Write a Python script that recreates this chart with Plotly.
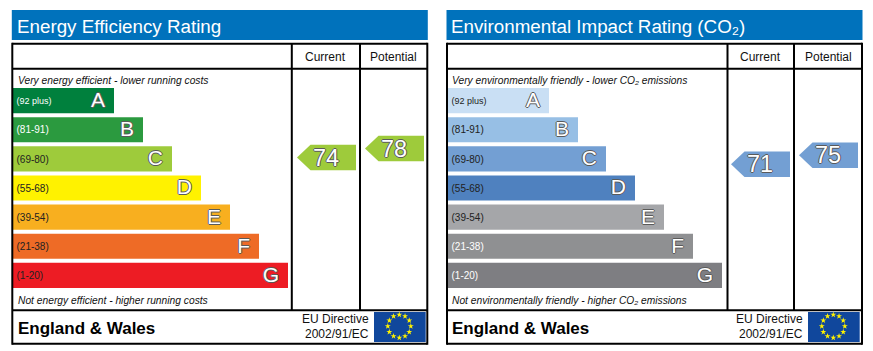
import math
import plotly.graph_objects as go

W, H = 873, 351

# ---- data ----
bands = ["A", "B", "C", "D", "E", "F", "G"]
ranges = ["(92 plus)", "(81-91)", "(69-80)", "(55-68)", "(39-54)", "(21-38)", "(1-20)"]
energy_lengths = [101, 130, 159, 188, 217, 246, 275]
env_lengths = [101, 130, 158, 187, 216, 245, 274]
energy_colors = ["#00803D", "#2B9A3F", "#9ECB3B", "#FFF200", "#F8AF1F", "#EE6B26", "#ED1C24"]
env_colors = ["#C9DFF4", "#97BFE5", "#739FD3", "#4F81BF", "#A5A6A9", "#8F9092", "#7E7E82"]
energy_label_colors = ["#FFFFFF", "#FFFFFF", "#222222", "#222222", "#222222", "#222222", "#222222"]
env_label_colors = ["#222222", "#222222", "#222222", "#222222", "#222222", "#FFFFFF", "#FFFFFF"]
energy_ratings = [74, 78]
env_ratings = [71, 75]
column_names = ["Current", "Potential"]

FONT = "Liberation Sans, Arial, sans-serif"
OUTLINE = "-1px 0 0 #5A5A5A, 1px 0 0 #5A5A5A, 0 -1px 0 #5A5A5A, 0 1px 0 #5A5A5A"


def px(x):
    return x / W


def py(y):
    return 1 - y / H


fig = go.Figure()
shapes, notes = [], []


def rect(x0, y0, x1, y1, color):
    shapes.append(dict(type="rect", xref="paper", yref="paper", x0=px(x0), x1=px(x1),
                       y0=py(y0), y1=py(y1), fillcolor=color, line_width=0, layer="below"))


def line(x0, y0, x1, y1, width=2):
    shapes.append(dict(type="line", xref="paper", yref="paper", x0=px(x0), x1=px(x1),
                       y0=py(y0), y1=py(y1), line=dict(color="#000000", width=width)))


def text(x, y, s, size, anchor="left", color="#111111", italic=False, bold=False):
    notes.append(dict(xref="paper", yref="paper", x=px(x), y=py(y), text=s, showarrow=False,
                      xanchor=anchor, yanchor="middle", align=anchor,
                      borderpad=0, borderwidth=0,
                      font=dict(family=FONT, size=size, color=color,
                                style="italic" if italic else "normal",
                                weight="bold" if bold else "normal")))


def panel(left, box, title, top_note, bottom_note, lengths, colors, label_colors, ratings,
          arrow_color, axis_suffix, col_tip):
    box_l, c1, c2, box_r = box
    rect(box_l - 0.5, 10, box_r + 0.5, 40, "#0072BC")
    text(left + 4, 27, title, 18.8, color="#FFFFFF")
    for y in (43.8, 68.8, 310.2, 343.7):
        line(box_l, y, box_r, y, 2)
    line(box_l, 42.8, box_l, 344.7, 2)
    line(box_r, 42.8, box_r, 344.7, 2)
    line(c1, 43.8, c1, 310.2, 2)
    line(c2, 43.8, c2, 310.2, 2)
    text((c1 + c2) / 2, 57, column_names[0], 12, "center")
    text((c2 + box_r) / 2, 57, column_names[1], 12, "center")
    text(left + 5, 80, top_note, 10.25, italic=True)
    text(left + 5, 300, bottom_note, 10.25, italic=True)
    text(left + 5, 328.5, "England &amp; Wales", 17, bold=True, color="#000000")
    text(left + 356, 319, "EU Directive", 12, "right")
    text(left + 356, 333.5, "2002/91/EC", 12, "right")
    rect(left + 361, 312, left + 412.7, 342, "#10479C")

    # bars on a numeric band-index axis
    idx = list(range(len(bands)))
    text_idx = [i + 0.04 for i in idx]
    xa, ya = f"x{axis_suffix}", f"y{axis_suffix}"
    fig.add_trace(go.Bar(x=lengths, y=idx, orientation="h", marker=dict(color=colors, line_width=0),
                         xaxis=xa, yaxis=ya, hoverinfo="skip", showlegend=False))
    fig.add_trace(go.Scatter(x=[3.5] * 7, y=text_idx, mode="text", text=ranges,
                             textposition="middle right",
                             textfont=dict(family=FONT, size=[9] + [10] * 6, color=label_colors),
                             xaxis=xa, yaxis=ya, hoverinfo="skip", showlegend=False))
    fig.add_trace(go.Scatter(x=[v - 9 for v in lengths], y=text_idx, mode="text", text=bands,
                             textposition="middle left",
                             textfont=dict(family=FONT, size=21, color="#FFFFFF", shadow=OUTLINE),
                             xaxis=xa, yaxis=ya, hoverinfo="skip", showlegend=False))

    # rating arrows (y axis is the rating scale)
    half = 5.7
    for i, r in enumerate(ratings):
        tip = col_tip + 68 * i
        fig.add_trace(go.Scatter(
            x=[tip, tip + 13.5, tip + 59, tip + 59, tip + 13.5, tip],
            y=[r, r + half, r + half, r - half, r - half, r],
            mode="lines", fill="toself", fillcolor=arrow_color, line=dict(width=0),
            xaxis="x3", yaxis="y3", hoverinfo="skip", showlegend=False))
        fig.add_trace(go.Scatter(
            x=[tip + 29], y=[r - 1], mode="text", text=[str(r)], textposition="middle center",
            textfont=dict(family=FONT, size=23.5, color="#FFFFFF", shadow=OUTLINE),
            xaxis="x3", yaxis="y3", hoverinfo="skip", showlegend=False))

    # EU stars on a ring, page-pixel overlay axes
    cx, cy, rad = left + 386.3, 326.2, 11.5
    angles = [math.radians(30 * k) for k in range(12)]
    fig.add_trace(go.Scatter(
        x=[cx + rad * math.sin(a) for a in angles], y=[cy - rad * math.cos(a) for a in angles],
        mode="markers", marker=dict(symbol="star", size=4.5, color="#FFF200", line_width=0),
        xaxis="x3", yaxis="y4", hoverinfo="skip", showlegend=False))


panel(13, (12.3, 291.8, 360, 427.3), "Energy Efficiency Rating",
      "Very energy efficient - lower running costs",
      "Not energy efficient - higher running costs", energy_lengths, energy_colors,
      energy_label_colors, energy_ratings, "#9ECB3B", "", 297)
panel(447, (447, 727.5, 794, 862), "Environmental Impact Rating (CO₂)",
      "Very environmentally friendly - lower CO₂ emissions",
      "Not environmentally friendly - higher CO₂ emissions", env_lengths, env_colors,
      env_label_colors, env_ratings, "#739FD3", "2", 731)


def hidden(**kw):
    return dict(visible=False, fixedrange=True, **kw)


fig.update_layout(
    width=W, height=H, margin=dict(l=0, r=0, t=0, b=0, pad=0),
    paper_bgcolor="#FFFFFF", plot_bgcolor="rgba(0,0,0,0)", showlegend=False,
    bargap=4 / 29,
    shapes=shapes, annotations=notes,
    xaxis=hidden(domain=[px(13), px(288)], range=[0, 275], anchor="y"),
    yaxis=hidden(domain=[py(290), py(86)], autorange=False, range=[6.5, -0.5], anchor="x"),
    xaxis2=hidden(domain=[px(448), px(723)], range=[0, 275], anchor="y2"),
    yaxis2=hidden(domain=[py(290), py(86)], autorange=False, range=[6.5, -0.5], anchor="x2"),
    xaxis3=hidden(domain=[0, 1], range=[0, W], anchor="y3"),
    yaxis3=hidden(domain=[0, 1], range=[-12, 144], anchor="x3"),
    yaxis4=hidden(domain=[0, 1], range=[H, 0], anchor="x3"),
)

fig.write_html("out.html", config=dict(displayModeBar=False),
               post_script="document.body.style.margin='0';document.documentElement.style.overflow='hidden';")
